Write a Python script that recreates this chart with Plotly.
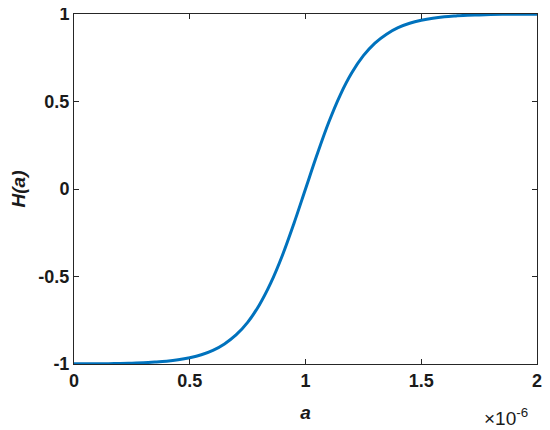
import plotly.graph_objects as go

LINE_BLUE = '#0072BD'
AXIS_GREY = '#262626'
FONT = 'Liberation Sans, Arial, sans-serif'

# a in units of 1e-6, H(a)
a_vals = [0.0, 0.05, 0.1, 0.15, 0.2, 0.25, 0.3, 0.35, 0.4, 0.45, 0.5, 0.55, 0.6, 0.65,
          0.7, 0.75, 0.8, 0.85, 0.9, 0.95, 1.0, 1.05, 1.1, 1.15, 1.2, 1.25, 1.3, 1.35,
          1.4, 1.45, 1.5, 1.55, 1.6, 1.65, 1.7, 1.75, 1.8, 1.85, 1.9, 1.95, 2.0]
h_vals = [-0.999, -0.999, -0.998, -0.998, -0.997, -0.995, -0.993, -0.989, -0.984, -0.976,
          -0.964, -0.947, -0.922, -0.885, -0.834, -0.762, -0.664, -0.537, -0.380, -0.197,
          0.0, 0.197, 0.380, 0.537, 0.664, 0.762, 0.834, 0.885, 0.922, 0.947,
          0.964, 0.976, 0.984, 0.989, 0.993, 0.995, 0.997, 0.998, 0.998, 0.999, 0.999]

x_ticks = [0, 0.5, 1, 1.5, 2]
x_ticktext = ['0', '0.5', '1', '1.5', '2']
y_ticks = [-1, -0.5, 0, 0.5, 1]
y_ticktext = ['-1', '-0.5', '0', '0.5', '1']

fig = go.Figure(go.Scatter(x=a_vals, y=h_vals, mode='lines', line=dict(color=LINE_BLUE, width=3, shape='spline')))

axis_common = dict(showgrid=False, zeroline=False, showline=True, linecolor=AXIS_GREY, linewidth=1,
                   mirror='ticks', ticks='inside', ticklen=5, tickcolor=AXIS_GREY,
                   automargin=False, ticklabeloverflow='allow',
                   tickfont=dict(family=FONT, size=18, color='#1a1a1a', weight='bold'))

# page body has an 8px margin, so the figure is sized to fit the window
fig.update_layout(
    width=542, height=422,
    paper_bgcolor='white', plot_bgcolor='white',
    margin=dict(l=66, r=13, t=6, b=66),
    showlegend=False,
    xaxis=dict(**axis_common, range=[0, 2], tickvals=x_ticks, ticktext=x_ticktext,
               title=dict(text='<b><i>a</i></b>', font=dict(family=FONT, size=19, color='#1a1a1a'), standoff=16)),
    yaxis=dict(**axis_common, range=[-1, 1], tickvals=y_ticks, ticktext=y_ticktext,
               title=dict(text='<b><i>H(a)</i></b>', font=dict(family=FONT, size=19, color='#1a1a1a'), standoff=14)),
)

fig.add_annotation(text='×10<sup>-6</sup>', xref='paper', yref='paper', x=0.985, y=-0.11,
                   xanchor='right', yanchor='top', showarrow=False,
                   font=dict(family=FONT, size=19, color='#1a1a1a'))

fig.write_html('out.html')
